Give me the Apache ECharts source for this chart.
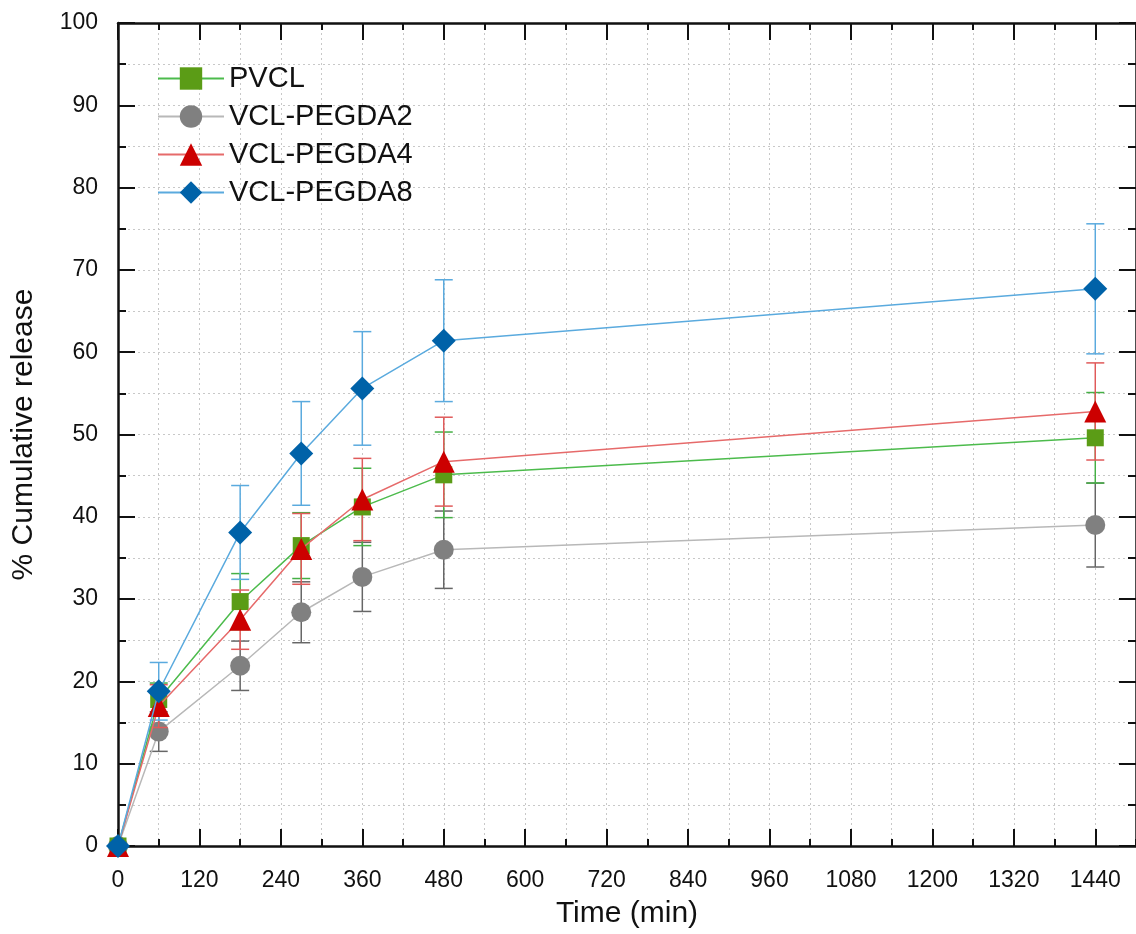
<!DOCTYPE html>
<html>
<head>
<meta charset="utf-8">
<script src="https://cdn.jsdelivr.net/npm/echarts@6/dist/echarts.min.js"></script>
<style>
html,body{margin:0;padding:0;background:#fff;}
#chart{width:1136px;height:934px;}
</style>
</head>
<body>
<div id="chart"></div>
<script>
var times = [0, 60, 180, 270, 360, 480, 1440];
var xTickLabels = ['0','120','240','360','480','600','720','840','960','1080','1200','1320','1440'];

var pvcl      = [0, 17.8, 29.7, 36.5, 41.2, 45.1, 49.6];
var pvclErr   = [0, 2.0, 3.4, 4.0, 4.7, 5.2, 5.5];
var pegda2    = [0, 13.9, 21.9, 28.4, 32.7, 36.0, 39.0];
var pegda2Err = [0, 2.4, 3.0, 3.7, 4.2, 4.7, 5.1];
var pegda4    = [0, 17.0, 27.5, 36.1, 42.1, 46.7, 52.8];
var pegda4Err = [0, 2.6, 3.6, 4.3, 5.0, 5.4, 5.9];
var pegda8    = [0, 18.8, 38.1, 47.7, 55.6, 61.4, 67.7];
var pegda8Err = [0, 3.5, 5.7, 6.3, 6.9, 7.4, 7.9];

var FONT = '"Liberation Sans", Arial, sans-serif';

var seriesDefs = [
  {name:'VCL-PEGDA2', vals:pegda2, err:pegda2Err, symbol:'circle', size:20, marker:'#808080', line:'#b8b8b8', bar:'#666666', z:2},
  {name:'PVCL', vals:pvcl, err:pvclErr, symbol:'rect', size:17, marker:'#5b9c16', line:'#4cbb4c', bar:'#45b045', z:3},
  {name:'VCL-PEGDA4', vals:pegda4, err:pegda4Err, symbol:'triangle', size:22, marker:'#cc0000', line:'#e66a6a', bar:'#e05a5a', z:4},
  {name:'VCL-PEGDA8', vals:pegda8, err:pegda8Err, symbol:'diamond', size:24, marker:'#0062a8', line:'#5aaade', bar:'#5aaade', z:5}
];

function pairs(vals){ return times.map(function(t,i){ return [t, vals[i]]; }); }
function errData(vals, err){
  var out = [];
  times.forEach(function(t,i){ if (err[i] > 0) out.push([t, vals[i]-err[i], vals[i]+err[i]]); });
  return out;
}
function errRender(color){
  return function(params, api){
    var x = api.value(0), lo = api.value(1), hi = api.value(2);
    var a = api.coord([x, hi]), b = api.coord([x, lo]);
    var w = 9;
    var st = {stroke: color, lineWidth: 1.5};
    return {type:'group', children:[
      {type:'line', shape:{x1:a[0], y1:a[1], x2:b[0], y2:b[1]}, style:st},
      {type:'line', shape:{x1:a[0]-w, y1:a[1], x2:a[0]+w, y2:a[1]}, style:st},
      {type:'line', shape:{x1:b[0]-w, y1:b[1], x2:b[0]+w, y2:b[1]}, style:st}
    ]};
  };
}

var series = [];
seriesDefs.forEach(function(d){
  series.push({
    type:'custom', name:d.name + ' err', xAxisIndex:0, yAxisIndex:0,
    renderItem: errRender(d.bar), data: errData(d.vals, d.err),
    encode:{x:0, y:[1,2]}, z:d.z, silent:true, clip:false
  });
});
seriesDefs.forEach(function(d){
  series.push({
    type:'line', name:d.name, xAxisIndex:0, yAxisIndex:0,
    data: pairs(d.vals), symbol:d.symbol, symbolSize:d.size,
    showAllSymbol:true,
    itemStyle:{color:d.marker, borderWidth:0},
    lineStyle:{color:d.line, width:1.5},
    z:d.z + 1, clip:true, animation:false
  });
});

var axisCommon = {
  min:0, max:1500, type:'value', gridIndex:0
};
var option = {
  animation:false,
  backgroundColor:'#fff',
  textStyle:{fontFamily:FONT},
  grid:{left:118, top:23, width:1022, height:828},
  legend:{
    data:['PVCL','VCL-PEGDA2','VCL-PEGDA4','VCL-PEGDA8'],
    orient:'vertical', left:152, top:59,
    itemWidth:66, itemHeight:28, itemGap:9,
    textStyle:{fontFamily:FONT, fontSize:29, color:'#111', lineHeight:28}
  },
  xAxis:[
    Object.assign({}, axisCommon, {
      position:'bottom', interval:120,
      name:'Time (min)', nameLocation:'middle', nameGap:53,
      nameTextStyle:{fontFamily:FONT, fontSize:30, color:'#111'},
      axisLine:{show:true, lineStyle:{color:'#111', width:2.5}},
      axisTick:{show:true, inside:true, length:17, lineStyle:{color:'#111', width:2}},
      axisLabel:{show:true, fontFamily:FONT, fontSize:23, color:'#111', margin:23, showMaxLabel:false,
        formatter:function(v){ var i = Math.round(v/120); return (v % 120 === 0 && i < xTickLabels.length) ? xTickLabels[i] : ''; }},
      splitLine:{show:false}
    }),
    Object.assign({}, axisCommon, {
      position:'bottom', interval:60,
      axisLine:{show:false},
      axisTick:{show:true, inside:true, length:7, lineStyle:{color:'#111', width:2}},
      axisLabel:{show:false},
      splitLine:{show:true, lineStyle:{color:'#c8c8c8', width:1, type:[2,3]}}
    }),
    Object.assign({}, axisCommon, {
      position:'top', interval:120,
      axisLine:{show:true, onZero:false, lineStyle:{color:'#111', width:2.5}},
      axisTick:{show:true, inside:true, length:17, lineStyle:{color:'#111', width:2}},
      axisLabel:{show:false}, splitLine:{show:false}
    }),
    Object.assign({}, axisCommon, {
      position:'top', interval:60,
      axisLine:{show:false},
      axisTick:{show:true, inside:true, length:7, lineStyle:{color:'#111', width:2}},
      axisLabel:{show:false}, splitLine:{show:false}
    })
  ],
  yAxis:[
    {
      type:'value', min:0, max:100, interval:10, position:'left',
      name:'% Cumulative release', nameLocation:'middle', nameGap:79,
      nameTextStyle:{fontFamily:FONT, fontSize:30, color:'#111'},
      axisLine:{show:true, onZero:false, lineStyle:{color:'#111', width:2.5}},
      axisTick:{show:true, inside:true, length:17, lineStyle:{color:'#111', width:2}},
      minorTick:{show:true, splitNumber:2, length:8, lineStyle:{color:'#111', width:2}},
      axisLabel:{fontFamily:FONT, fontSize:23, color:'#111', margin:20},
      splitLine:{show:true, lineStyle:{color:'#c8c8c8', width:1, type:[2,3]}},
      minorSplitLine:{show:true, lineStyle:{color:'#c8c8c8', width:1, type:[2,3]}}
    },
    {
      type:'value', min:0, max:100, interval:10, position:'right',
      axisLine:{show:true, onZero:false, lineStyle:{color:'#111', width:2.5}},
      axisTick:{show:true, inside:true, length:17, lineStyle:{color:'#111', width:2}},
      minorTick:{show:true, splitNumber:2, length:8, lineStyle:{color:'#111', width:2}},
      axisLabel:{show:false}, splitLine:{show:false}
    }
  ],
  series: series
};

var chart = echarts.init(document.getElementById('chart'), null, {renderer:'canvas'});
chart.setOption(option);
</script>
</body>
</html>
